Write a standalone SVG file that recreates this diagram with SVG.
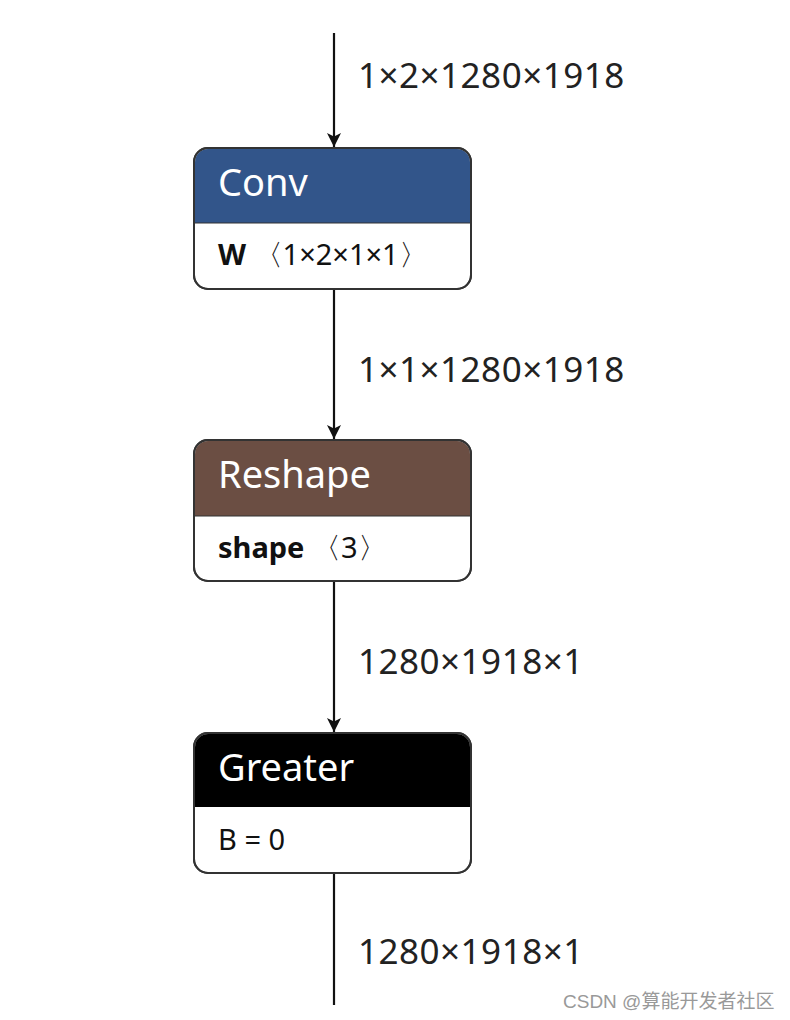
<svg xmlns="http://www.w3.org/2000/svg" width="790" height="1020" viewBox="0 0 790 1020">
<style>
.lbl{font-family:"Noto Sans","Open Sans","DejaVu Sans",sans-serif;font-size:35px;letter-spacing:0.5px;fill:#222}
.title{font-family:"Noto Sans","Open Sans","DejaVu Sans",sans-serif;font-size:38px;fill:#fff}
.attr{font-family:"Noto Sans","Open Sans","DejaVu Sans",sans-serif;font-size:29px;fill:#111}
.b{font-weight:bold}
.box{fill:#fff;stroke:#333;stroke-width:2}
.edge{stroke:#111;stroke-width:2.2;fill:none}
</style>
<defs>
<marker id="arr" viewBox="0 0 12 12" refX="12" refY="6" markerWidth="14" markerHeight="14" markerUnits="userSpaceOnUse" orient="auto">
<path d="M0,0 L12,6 L0,12 L3,6 z" fill="#111"/>
</marker>
<clipPath id="c1"><rect x="195" y="149" width="275" height="139" rx="13"/></clipPath>
<clipPath id="c2"><rect x="195" y="441" width="275" height="139" rx="13"/></clipPath>
<clipPath id="c3"><rect x="195" y="734" width="275" height="138" rx="13"/></clipPath>
</defs>
<g id="connectors">
<line class="edge" x1="334" y1="33" x2="334" y2="147" marker-end="url(#arr)"/>
<line class="edge" x1="334" y1="289" x2="334" y2="439" marker-end="url(#arr)"/>
<line class="edge" x1="334" y1="581" x2="334" y2="732" marker-end="url(#arr)"/>
<line class="edge" x1="334" y1="873" x2="334" y2="1005"/>
<text class="lbl" x="358" y="88">1×2×1280×1918</text>
<text class="lbl" x="358" y="382">1×1×1280×1918</text>
<text class="lbl" x="358" y="674">1280×1918×1</text>
<text class="lbl" x="358" y="964">1280×1918×1</text>
</g>
<g id="conv">
<rect class="box" x="194" y="148" width="277" height="141" rx="14"/>
<rect x="194" y="148" width="277" height="75" fill="#32558a" clip-path="url(#c1)"/>
<line x1="195" y1="223" x2="470" y2="223" stroke="#333" stroke-width="1"/>
<rect x="194" y="148" width="277" height="141" rx="14" fill="none" stroke="#333" stroke-width="2"/>
<text class="title" x="218" y="196">Conv</text>
<text class="attr" x="218" y="265"><tspan class="b">W</tspan> 〈1×2×1×1〉</text>
</g>
<g id="reshape">
<rect class="box" x="194" y="440" width="277" height="141" rx="14"/>
<rect x="194" y="440" width="277" height="76" fill="#6b4e43" clip-path="url(#c2)"/>
<line x1="195" y1="516" x2="470" y2="516" stroke="#333" stroke-width="1"/>
<rect x="194" y="440" width="277" height="141" rx="14" fill="none" stroke="#333" stroke-width="2"/>
<text class="title" x="218" y="488">Reshape</text>
<text class="attr" x="218" y="558"><tspan class="b">shape</tspan> 〈3〉</text>
</g>
<g id="greater">
<rect class="box" x="194" y="733" width="277" height="140" rx="14"/>
<rect x="194" y="733" width="277" height="74" fill="#000" clip-path="url(#c3)"/>
<rect x="194" y="733" width="277" height="140" rx="14" fill="none" stroke="#333" stroke-width="2"/>
<text class="title" x="218" y="781">Greater</text>
<text class="attr" x="218" y="850">B = 0</text>
</g>
<text x="563" y="1008" font-family="'Liberation Sans','Noto Sans CJK SC',sans-serif" font-size="19" fill="#999">CSDN @算能开发者社区</text>
</svg>
